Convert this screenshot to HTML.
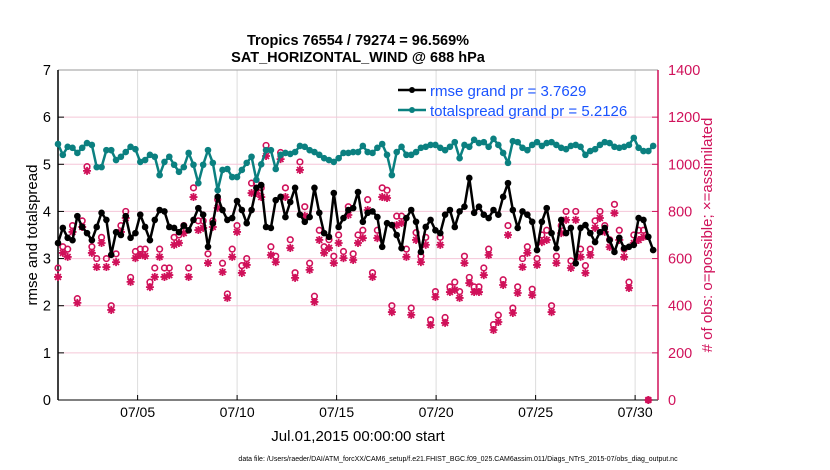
<!DOCTYPE html>
<html><head><meta charset="utf-8">
<style>
html,body{margin:0;padding:0;background:#fff;}
svg{display:block;font-family:"Liberation Sans",Arial,sans-serif;}
</style></head>
<body>
<svg id="chart" width="830" height="470" viewBox="0 0 830 470" xmlns="http://www.w3.org/2000/svg">
<g id="grid"></g>
<g id="axes"></g>
<g id="marks"></g>
<text x="358" y="45" text-anchor="middle" font-size="14.5" font-weight="bold">Tropics 76554 / 79274 = 96.569%</text>
<text x="358" y="62" text-anchor="middle" font-size="14.5" font-weight="bold">SAT_HORIZONTAL_WIND @ 688 hPa</text>
<text x="358" y="441" text-anchor="middle" font-size="15">Jul.01,2015 00:00:00 start</text>
<text transform="translate(37,235) rotate(-90)" text-anchor="middle" font-size="15">rmse and totalspread</text>
<text transform="translate(712,235) rotate(-90)" text-anchor="middle" font-size="15" fill="#d0115a"># of obs: o=possible; ×=assimilated</text>
<text x="458" y="461" text-anchor="middle" font-size="7">data file: /Users/raeder/DAI/ATM_forcXX/CAM6_setup/f.e21.FHIST_BGC.f09_025.CAM6assim.011/Diags_NTrS_2015-07/obs_diag_output.nc</text>
<g>
  <line x1="398" y1="90" x2="426" y2="90" stroke="#000" stroke-width="2.5"/>
  <circle cx="412" cy="90" r="3" fill="#000"/>
  <text x="430" y="96" font-size="15" fill="#1a53ff">rmse grand pr = 3.7629</text>
  <line x1="398" y1="110" x2="426" y2="110" stroke="#0b8080" stroke-width="2.5"/>
  <circle cx="412" cy="110" r="3" fill="#0b8080"/>
  <text x="430" y="116" font-size="15" fill="#1a53ff">totalspread grand pr = 5.2126</text>
</g>
</svg>
<script>
const rmse=[3.33,3.65,3.44,3.39,3.9,3.67,3.54,3.39,3.67,3.97,3.82,3.08,3.56,3.5,3.9,3.44,3.54,3.93,3.67,3.39,3.82,4.03,4.0,3.67,3.65,3.56,3.7,3.6,3.82,4.07,3.93,3.25,3.75,4.31,4.03,3.82,3.86,4.22,4.03,3.75,4.03,4.5,4.56,
3.67,3.65,4.24,4.31,3.88,4.2,4.5,3.93,3.78,3.88,4.5,3.97,3.54,3.46,4.39,3.67,3.86,4.03,4.07,4.41,3.78,3.97,4.0,3.88,3.25,3.75,3.71,3.5,3.22,3.86,4.03,3.78,3.14,3.67,3.82,3.6,3.54,3.93,4.03,3.67,4.0,4.1,
4.71,3.97,4.1,3.93,3.86,4.03,3.93,4.31,4.6,4.03,3.65,4.0,3.93,3.78,3.18,3.78,4.07,3.54,3.22,3.82,3.54,3.65,2.9,3.65,3.71,3.54,3.35,3.56,3.65,3.39,3.14,3.44,3.22,3.25,3.29,3.86,3.82,3.46,3.18];
const spread=[5.43,5.2,5.37,5.35,5.24,5.35,5.45,5.41,4.94,4.94,5.3,5.3,5.09,5.16,5.26,5.37,5.32,5.05,5.09,5.2,5.16,4.77,5.05,5.16,4.99,4.84,4.94,5.24,4.99,4.6,4.99,5.3,5.03,4.45,4.88,4.9,4.73,4.73,4.88,5.03,5.16,4.67,5.0,
5.3,5.3,4.9,5.2,5.24,5.22,5.26,5.39,5.37,5.3,5.26,5.2,5.13,5.09,5.05,5.13,5.24,5.24,5.26,5.26,5.39,5.26,5.24,5.35,5.43,5.2,4.77,5.26,5.37,5.2,5.2,5.26,5.35,5.37,5.41,5.41,5.35,5.3,5.37,5.47,5.13,5.41,
5.37,5.52,5.45,5.47,5.37,5.54,5.41,5.24,5.03,5.49,5.47,5.35,5.3,5.41,5.47,5.39,5.45,5.47,5.41,5.35,5.32,5.39,5.41,5.37,5.2,5.28,5.32,5.41,5.47,5.45,5.37,5.35,5.37,5.41,5.56,5.35,5.28,5.28,5.39];
const assimilated=[522,624,607,713,412,734,972,624,564,666,564,382,585,713,772,501,602,615,611,479,522,607,522,530,658,666,708,522,861,721,730,581,734,815,543,433,607,713,539,573,878,878,
861,1035,615,585,1022,861,645,518,976,781,552,416,679,624,645,581,666,602,785,594,666,687,806,522,687,861,857,373,742,751,607,361,679,585,658,318,437,658,327,458,
467,433,581,496,458,458,530,615,297,331,488,700,369,454,564,624,445,573,670,679,373,581,708,764,560,764,607,539,615,730,772,713,649,793,679,607,475,666,679,692,0];
const possible=[560,650,640,740,430,760,990,650,600,690,600,400,620,740,800,520,630,640,640,500,560,640,560,560,690,700,740,560,900,760,760,620,760,850,580,450,640,740,570,600,920,920,
900,1080,650,610,1050,900,680,540,1010,820,580,440,720,650,680,610,700,630,820,620,700,720,850,540,720,900,890,400,780,780,640,390,710,610,690,340,460,690,350,480,
500,460,610,520,480,480,560,640,320,360,510,740,390,480,600,650,470,600,700,720,400,610,740,800,590,800,640,570,640,760,800,740,680,830,720,640,500,700,720,720,0];
const yTicksL=[0,1,2,3,4,5,6,7];
const yTicksR=[0,200,400,600,800,1000,1200,1400];
const xTickDays=[4,9,14,19,24,29];
const xTickLabels=["07/05","07/10","07/15","07/20","07/25","07/30"];

const NS="http://www.w3.org/2000/svg";
const X0=58,X1=658,Y0=400,Y1=70;
const xDay=d=>X0+(d/30.15)*(X1-X0);
const xIdx=i=>X0+i*((X1-X0)/124);
const yL=v=>Y0-(v/7)*(Y0-Y1);
const yR=v=>Y0-(v/1400)*(Y0-Y1);
function mk(tag,attrs,parent){const e=document.createElementNS(NS,tag);for(const k in attrs)e.setAttribute(k,attrs[k]);parent.appendChild(e);return e;}
const grid=document.getElementById('grid'),axes=document.getElementById('axes'),marks=document.getElementById('marks');

xTickDays.forEach((d,i)=>{
  const l=mk('line',{x1:xDay(d),x2:xDay(d),y1:Y1,y2:Y0,stroke:'#dcdcdc','stroke-width':1},grid);
  
  
  mk('line',{x1:xDay(d),x2:xDay(d),y1:Y0,y2:Y0-5,stroke:'#000'},axes);
  const t=mk('text',{x:xDay(d),y:417,'text-anchor':'middle','font-size':14},axes);
  t.textContent=xTickLabels[i];
  
  
});
yTicksR.forEach(v=>{
  if(v>0&&v<1400){const l=mk('line',{x1:X0,x2:X1,y1:yR(v),y2:yR(v),stroke:'#f5c6d8','stroke-width':1},grid);
  
  }
  mk('line',{x1:X1,x2:X1-6,y1:yR(v),y2:yR(v),stroke:'#d0115a'},axes);
  const t=mk('text',{x:668,y:yR(v)+5,'font-size':14.5,fill:'#d0115a'},axes);
  t.textContent=v;
  
  
});
yTicksL.forEach(v=>{
  mk('line',{x1:X0,x2:X0+6,y1:yL(v),y2:yL(v),stroke:'#000'},axes);
  const t=mk('text',{x:51,y:yL(v)+5,'text-anchor':'end','font-size':14.5},axes);
  t.textContent=v;
  
  
});
mk('line',{x1:X0,x2:X1,y1:Y1,y2:Y1,stroke:'#999'},axes);
mk('line',{x1:X0,x2:X1,y1:Y0,y2:Y0,stroke:'#000'},axes);
mk('line',{x1:X0,x2:X0,y1:Y1,y2:Y0,stroke:'#000','stroke-width':1.5},axes);
mk('line',{x1:X1,x2:X1,y1:Y1,y2:Y0,stroke:'#d0115a','stroke-width':1.5},axes);

possible.forEach((v,i)=>{
  const c=mk('circle',{cx:xIdx(i),cy:yR(v),r:2.8,fill:'none',stroke:'#d0115a','stroke-width':1.6},marks);
  
  
});
assimilated.forEach((v,i)=>{
  const x=xIdx(i),y=yR(v),r=4,d=2.9;
  const p=mk('path',{d:`M${x-r},${y}H${x+r}M${x},${y-r}V${y+r}M${x-d},${y-d}L${x+d},${y+d}M${x-d},${y+d}L${x+d},${y-d}`,stroke:'#d0115a','stroke-width':1.8,fill:'none'},marks);
  
  
});
function series(arr,color,name){
  const p=mk('polyline',{points:arr.map((v,i)=>xIdx(i)+','+yL(v)).join(' '),fill:'none',stroke:color,'stroke-width':2.5,'stroke-linejoin':'round'},marks);
  
  
  arr.forEach((v,i)=>{
    const c=mk('circle',{cx:xIdx(i),cy:yL(v),r:3.3,fill:color},marks);
    
    
  });
}
series(spread,'#0b8080','totalspread');
series(rmse,'#000','rmse');
</script>
</body></html>
